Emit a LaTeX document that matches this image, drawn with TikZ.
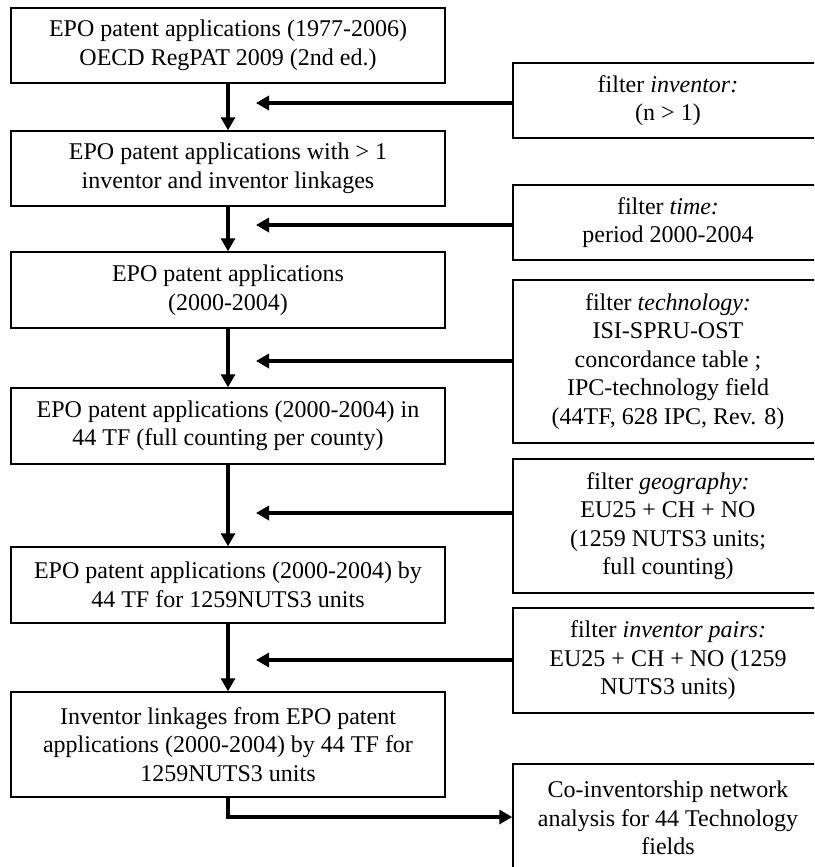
\documentclass[tikz,border=0pt]{standalone}
\usepackage{fontspec}
\setmainfont{Liberation Serif}
\usetikzlibrary{arrows.meta}
\begin{document}
\begin{tikzpicture}[x=1pt,y=-1pt,
  box/.style={draw, line width=1.5pt, align=center, inner sep=0pt,
    font=\fontsize{24}{28.5}\selectfont},
  lbox/.style={box, minimum width=434pt},
  rbox/.style={box, minimum width=310pt},
  arr/.style={line width=4pt, -{Triangle[length=13pt,width=14pt]}},
  lin/.style={line width=4pt}]
\useasboundingbox (0,0) rectangle (814,867);
\clip (0,0) rectangle (814,867);
% left column
\node[lbox, minimum height=75pt] (B1) at (228,45.5) {EPO patent applications (1977-2006)\\OECD RegPAT 2009 (2nd ed.)};
\node[lbox, minimum height=75pt] (B2) at (228,168.5) {EPO patent applications with > 1\\inventor and inventor linkages};
\node[lbox, minimum height=76pt] (B3) at (228,290) {EPO patent applications\\(2000-2004)};
\node[lbox, minimum height=76pt] (B4) at (228,426) {EPO patent applications (2000-2004) in\\44 TF (full counting per county)};
\node[lbox, minimum height=76pt] (B5) at (228,585) {EPO patent applications (2000-2004) by\\44 TF for 1259NUTS3 units};
\node[lbox, minimum height=105pt] (B6) at (228,744.5) {Inventor linkages from EPO patent\\applications (2000-2004) by 44 TF for\\1259NUTS3 units};
% right column
\node[rbox, minimum height=75pt] (R1) at (668,100.5) {filter \textit{inventor:}\\(n > 1)};
\node[rbox, minimum height=75pt] (R2) at (668,222.5) {filter \textit{time:}\\period 2000-2004};
\node[rbox, minimum height=163pt] (R3) at (668,361.5) {filter \textit{technology:}\\ISI-SPRU-OST\\concordance table ;\\IPC-technology field\\(44TF, 628 IPC, Rev. 8)};
\node[rbox, minimum height=134pt] (R4) at (668,526) {filter \textit{geography:}\\EU25 + CH + NO\\(1259 NUTS3 units;\\full counting)};
\node[rbox, minimum height=105pt] (R5) at (668,660.5) {filter \textit{inventor pairs:}\\EU25 + CH + NO (1259\\NUTS3 units)};
\node[rbox, minimum height=108pt] (R6) at (668,818) {Co-inventorship network\\analysis for 44 Technology\\fields};
% filter arrow targets
\coordinate (t1) at (256,103);
\coordinate (t2) at (256,225);
\coordinate (t3) at (256,361);
\coordinate (t4) at (256,513);
\coordinate (t5) at (256,660);
\coordinate (c6) at (228,817);
% vertical arrows
\draw[arr] (B1.south) -- (B2.north);
\draw[arr] (B2.south) -- (B3.north);
\draw[arr] (B3.south) -- (B4.north);
\draw[arr] (B4.south) -- (B5.north);
\draw[arr] (B5.south) -- (B6.north);
% horizontal filter arrows
\draw[arr] (R1.west |- t1) -- (t1);
\draw[arr] (R2.west |- t2) -- (t2);
\draw[arr] (R3.west |- t3) -- (t3);
\draw[arr] (R4.west |- t4) -- (t4);
\draw[arr] (R5.west |- t5) -- (t5);
% final connector
\draw[arr] (B6.south) -- (c6) -- (R6.west |- c6);
\end{tikzpicture}
\end{document}
